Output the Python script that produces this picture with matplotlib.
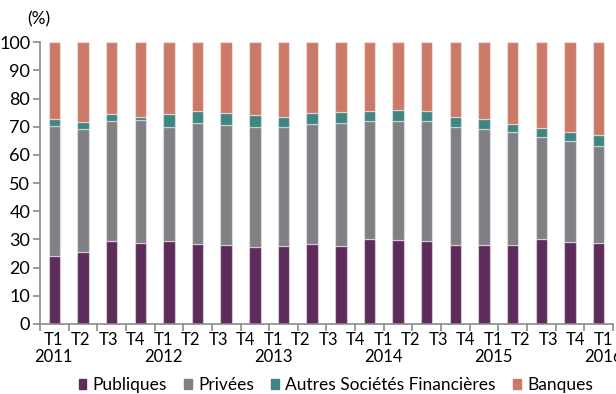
import numpy as np
import matplotlib
matplotlib.use("Agg")
import matplotlib.pyplot as plt
from matplotlib.patches import Patch

plt.rcParams['font.family'] = ['Lato', 'DejaVu Sans']

# quarter labels (21) and years
quarters = ['T1', 'T2', 'T3', 'T4'] * 5 + ['T1']
years = ['2011', '', '', '', '2012', '', '', '', '2013', '', '', '',
         '2014', '', '', '', '2015', '', '', '', '2016']

# cumulative tops (%) - 20 bars
publiques = [24.1, 25.4, 29.4, 28.7, 29.4, 28.3, 27.9, 27.3, 27.6, 28.3,
             27.6, 30.0, 29.8, 29.4, 28.0, 28.0, 28.0, 30.1, 29.2, 28.8]
top_privees = [70.1, 69.0, 71.9, 72.5, 70.0, 71.2, 70.5, 69.8, 69.8, 70.8,
               71.3, 72.0, 72.1, 72.1, 70.0, 69.0, 68.1, 66.5, 64.9, 63.3]
top_autres = [72.8, 71.5, 74.4, 73.5, 74.6, 75.6, 74.9, 74.0, 73.5, 74.7,
              75.1, 75.7, 75.8, 75.7, 73.5, 72.8, 71.0, 69.6, 68.2, 66.9]

publiques = np.array(publiques)
privees = np.array(top_privees) - publiques
autres = np.array(top_autres) - np.array(top_privees)
banques = 100 - np.array(top_autres)

names = ['Publiques', 'Privées', 'Autres Sociétés Financières', 'Banques']
colors = ['#5e2c5b', '#818085', '#3f8683', '#cc7a68']

fig = plt.figure(figsize=(6.16, 3.94), dpi=100)
ax = fig.add_axes([0.065, 0.178, 0.93, 0.715])

x = np.arange(len(publiques))
bottom = np.zeros(len(x))
for vals, c in zip([publiques, privees, autres, banques], colors):
    ax.bar(x, vals, 0.4, bottom=bottom, color=c,
           edgecolor=(1, 1, 1, 0.45), linewidth=0.9)
    bottom = bottom + vals

grey = '#8a8a8a'
ax.set_xlim(-0.5, len(x) - 0.5)
ax.set_ylim(0, 100)
ax.set_yticks(range(0, 101, 10))
for s in ['top', 'right']:
    ax.spines[s].set_visible(False)
for s in ['left', 'bottom']:
    ax.spines[s].set_color(grey)
    ax.spines[s].set_linewidth(1.2)

# tick marks at bar boundaries, labels drift as in the original
ax.set_xticks(np.arange(-0.5, len(x), 1.0))
ax.set_xticklabels([])
lab_pos = np.arange(len(quarters)) * 27.5 / 28.65 - 0.03
ax.set_xticks(lab_pos, minor=True)
ax.set_xticklabels([q + '\n' + y for q, y in zip(quarters, years)],
                   minor=True, fontsize=12, linespacing=1.05)
ax.tick_params(axis='x', which='major', length=5, width=1.2, color=grey)
ax.tick_params(axis='x', which='minor', length=0, pad=6)
ax.tick_params(axis='y', length=5, width=1.2, color=grey, labelsize=13, pad=2)

fig.text(0.063, 0.95, '(%)', ha='center', va='center', fontsize=12.5)

handles = [Patch(color=c) for c in colors]
fig.legend(handles, names, loc='center', bbox_to_anchor=(0.545, 0.022), ncol=4,
           frameon=False, fontsize=12.5, handlelength=0.45, handleheight=0.45,
           handletextpad=0.35, columnspacing=1.0)

fig.savefig('out.png', dpi=100)
